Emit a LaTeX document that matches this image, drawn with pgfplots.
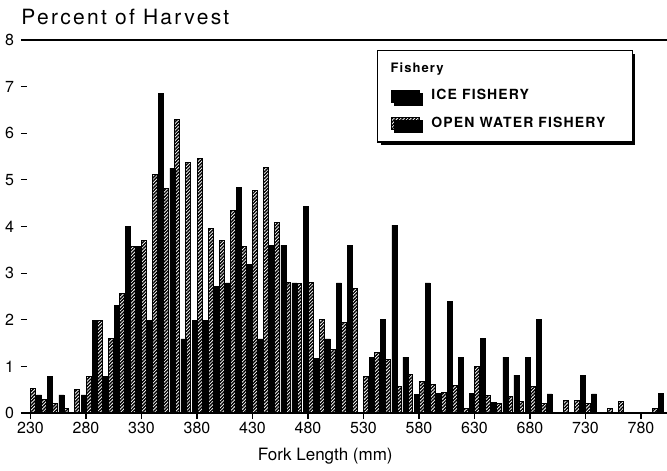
\documentclass[border=0pt]{standalone}
\usepackage{fontspec}
\setmainfont{TeX Gyre Heros}
\newfontfamily\titlefont[LetterSpace=11]{TeX Gyre Heros}
\newfontfamily\legfont[LetterSpace=8]{TeX Gyre Heros}
\usepackage{pgfplots}
\usepackage{pgfplotstable}
\pgfplotsset{compat=1.18}
\usetikzlibrary{patterns.meta,shadows}

% fork length bin (mm), percent of harvest: ice fishery, open water fishery
\pgfplotstableread{
len ice  open
230 0    0.53
240 0.39 0.30
250 0.78 0.20
260 0.39 0.10
270 0    0.50
280 0.39 0.78
290 1.98 1.98
300 0.78 1.59
310 2.30 2.57
320 4.00 3.58
330 3.58 3.69
340 1.98 5.12
350 6.85 4.82
360 5.25 6.30
370 1.59 5.37
380 1.98 5.46
390 1.98 3.96
400 2.72 3.69
410 2.79 4.35
420 4.84 3.57
430 3.19 4.77
440 1.59 5.27
450 3.60 4.08
460 3.60 2.80
470 2.79 2.77
480 4.43 2.79
490 1.17 2.00
500 1.59 1.36
510 2.79 1.94
520 3.60 2.66
530 0    0.78
540 1.20 1.29
550 2.00 1.14
560 4.03 0.57
570 1.20 0.83
580 0.40 0.67
590 2.79 0.61
600 0.42 0.45
610 2.40 0.60
620 1.20 0.10
630 0.42 0.99
640 1.60 0.37
650 0.23 0.20
660 1.20 0.35
670 0.81 0.25
680 1.20 0.57
690 2.00 0.20
700 0.41 0
710 0    0.26
720 0    0.26
730 0.81 0.20
740 0.41 0
750 0    0.10
760 0    0.25
770 0    0
780 0    0
790 0    0.10
800 0.42 0
}\harvest

\begin{document}
\begin{tikzpicture}
\useasboundingbox (-13.5pt,-28.5pt) rectangle (320pt,206.5pt);
\begin{axis}[
    at={(0,0)}, anchor=south west,
    scale only axis,
    width=320pt, height=186.5pt,
    xmin=226.8, xmax=803.4,
    ymin=0, ymax=8,
    ybar=0pt, bar width=2.5pt,
    axis line style={draw=none},
    xtick={230,280,...,780},
    ytick={0,1,...,8},
    tick pos=left,
    tick align=outside,
    major tick length=3pt,
    tick style={black, line width=0.6pt},
    /pgf/number format/assume math mode=true,
    ticklabel style={font=\fontsize{8}{9}\selectfont},
    xticklabel style={inner sep=1.5pt},
    every axis title shift=0pt,
    title={\titlefont Percent of Harvest},
    title style={at={(rel axis cs:0,1)}, anchor=base west, inner sep=0pt,
        xshift=-3pt, yshift=7.5pt, font=\fontsize{10.5}{12}\selectfont},
    xlabel={Fork Length (mm)},
    xlabel style={at={(rel axis cs:0.466,0)}, anchor=base, inner sep=0pt,
        yshift=-23.5pt, font=\fontsize{8.5}{10}\selectfont},
    legend image code/.code={
        \draw[#1, line width=0.4pt] (0pt,-3pt) rectangle (14pt,3pt);
    },
    legend style={at={(rel axis cs:0.547,0.973)}, anchor=north west,
        draw=black, line width=0.6pt,
        drop shadow={shadow xshift=1.5pt, shadow yshift=-1.5pt, fill=black, opacity=1},
        fill=white,
        inner xsep=6.5pt, inner ysep=6pt, row sep=7pt,
        nodes={inner sep=0pt},
        font=\legfont\fontsize{7}{8}\selectfont\bfseries},
    legend cell align=left,
]
\draw[line width=1pt] (rel axis cs:0,0) -- (rel axis cs:1,0);
\draw[line width=0.8pt] (rel axis cs:0,1) -- (rel axis cs:1,1);

\addlegendimage{empty legend}
\addlegendentry{\hspace*{-14.4pt}\fontsize{6.5}{8}\selectfont Fishery}

\addplot[fill=black, draw=black, line width=0.3pt]
    table[x=len, y=ice] {\harvest};
\addlegendentry{\hspace*{6pt}ICE FISHERY}

\addplot[draw=black, line width=0.5pt,
    pattern={Lines[angle=45, distance=1.2pt, line width=0.7pt]}, pattern color=black]
    table[x=len, y=open] {\harvest};
\addlegendentry{\hspace*{6pt}OPEN WATER FISHERY\hspace*{7pt}}
\end{axis}
\end{tikzpicture}
\end{document}
